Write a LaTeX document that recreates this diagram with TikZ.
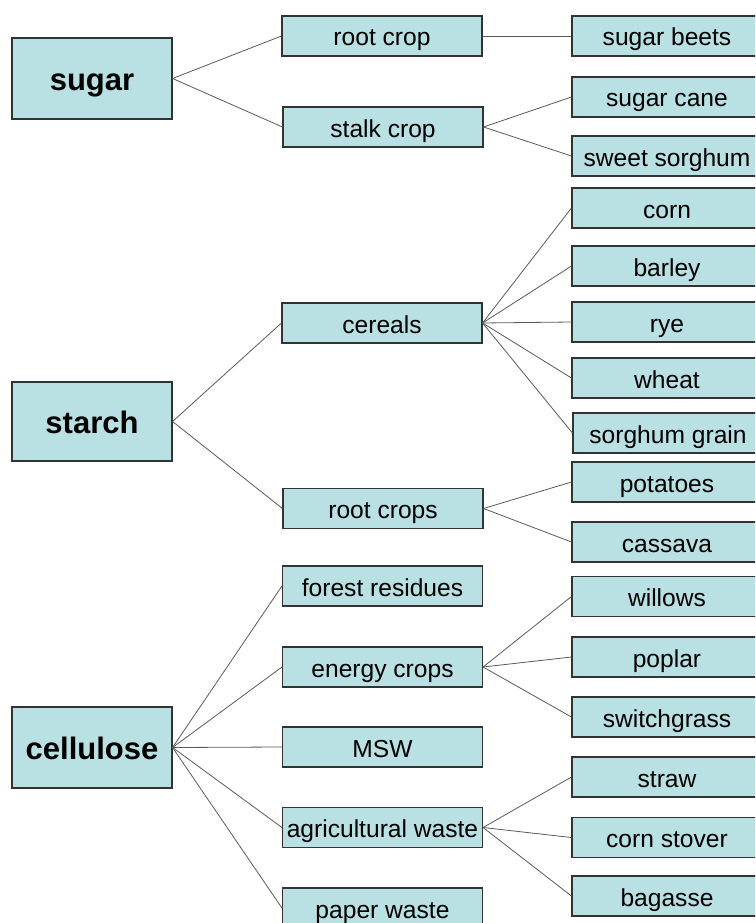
\documentclass[tikz,border=0pt]{standalone}
\usepackage{fontspec}
\setmainfont{Liberation Sans}
\definecolor{boxfill}{HTML}{B9E0E3}
\definecolor{boxline}{HTML}{333333}
\definecolor{linkline}{HTML}{5A5A5A}
\begin{document}
\begin{tikzpicture}[x=1pt,y=-1pt,
  topbox/.style={draw=boxline,fill=boxfill,line width=1.1pt,minimum width=160pt,minimum height=80pt,inner sep=0pt,text height=28pt,text depth=4pt,font=\fontsize{31}{34}\selectfont\bfseries},
  midbox/.style={draw=boxline,fill=boxfill,line width=1.1pt,minimum width=200pt,minimum height=40pt,inner sep=0pt,text height=24pt,text depth=4pt,font=\fontsize{24.6}{28}\selectfont},
  leafbox/.style={draw=boxline,fill=boxfill,line width=1.1pt,minimum width=190pt,minimum height=40pt,inner sep=0pt,text height=24pt,text depth=4pt,font=\fontsize{24.6}{28}\selectfont},
  link/.style={draw=linkline,line width=0.8pt}]
\useasboundingbox (0,0) rectangle (755,923);
\clip (0,0) rectangle (755,923);
\fill[white] (0,0) rectangle (755,923);
% level 0
\node[topbox,minimum height=81pt] (sugar) at (92,78.5) {sugar};
\node[topbox,minimum height=79pt] (starch) at (92,421.5) {starch};
\node[topbox,minimum height=81pt] (cellulose) at (92,747.5) {cellulose};
% level 1
\node[midbox] (rootcrop) at (382,36) {root crop};
\node[midbox] (stalkcrop) at (383,127) {stalk crop};
\node[midbox] (cereals) at (382,323) {cereals};
\node[midbox] (rootcrops) at (383,508.5) {root crops};
\node[midbox] (forest) at (382.5,586) {forest residues};
\node[midbox] (energy) at (382.5,667) {energy crops};
\node[midbox] (msw) at (382.5,747) {MSW};
\node[midbox] (agri) at (382.5,827.5) {agricultural waste};
\node[midbox] (paper) at (382.5,908) {paper waste};
% level 2
\node[leafbox] (sugarbeets) at (667,36) {sugar beets};
\node[leafbox] (sugarcane) at (667,97) {sugar cane};
\node[leafbox] (sweetsorghum) at (667,156) {sweet sorghum};
\node[leafbox] (corn) at (667,208) {corn};
\node[leafbox] (barley) at (667,266) {barley};
\node[leafbox] (rye) at (667,322) {rye};
\node[leafbox] (wheat) at (667,378) {wheat};
\node[leafbox] (sorghumgrain) at (668,433) {sorghum grain};
\node[leafbox] (potatoes) at (667,482) {potatoes};
\node[leafbox] (cassava) at (667,542) {cassava};
\node[leafbox] (willows) at (667,596.5) {willows};
\node[leafbox] (poplar) at (667,657) {poplar};
\node[leafbox] (switchgrass) at (667,717) {switchgrass};
\node[leafbox] (straw) at (667,777) {straw};
\node[leafbox] (cornstover) at (667,837.5) {corn stover};
\node[leafbox] (bagasse) at (667,896) {bagasse};
% connectors
\foreach \a/\b in {sugar/rootcrop,sugar/stalkcrop,
  rootcrop/sugarbeets,stalkcrop/sugarcane,stalkcrop/sweetsorghum,
  starch/cereals,starch/rootcrops,
  cereals/corn,cereals/barley,cereals/rye,cereals/wheat,cereals/sorghumgrain,
  rootcrops/potatoes,rootcrops/cassava,
  cellulose/forest,cellulose/energy,cellulose/msw,cellulose/agri,cellulose/paper,
  energy/willows,energy/poplar,energy/switchgrass,
  agri/straw,agri/cornstover,agri/bagasse}
  \draw[link] (\a.east) -- (\b.west);
\end{tikzpicture}
\end{document}
